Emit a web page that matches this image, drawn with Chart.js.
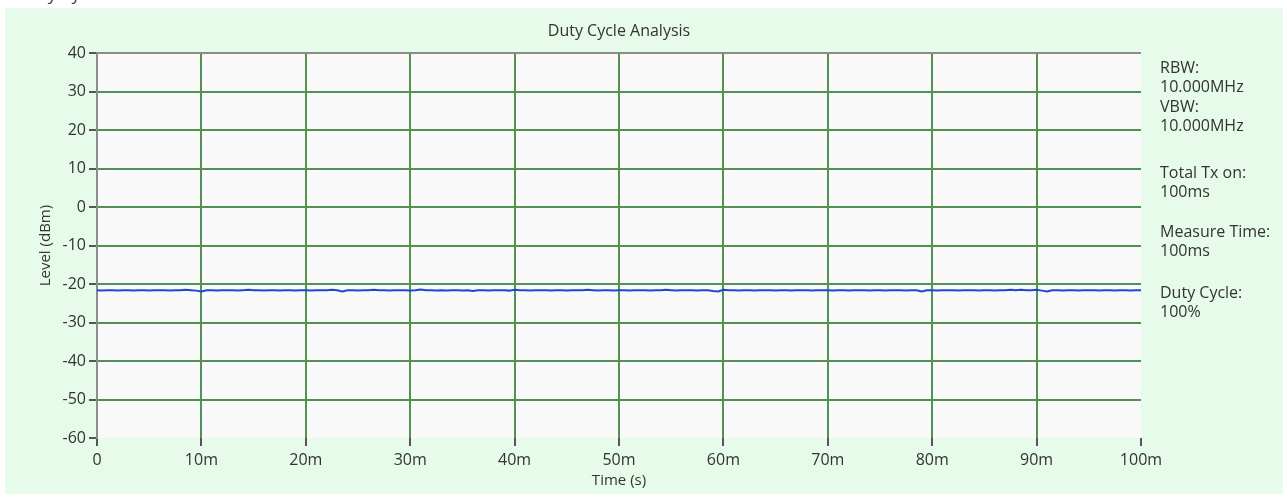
<!DOCTYPE html>
<html>
<head>
<meta charset="utf-8">
<title>Duty Cycle Analysis</title>
<script src="https://cdn.jsdelivr.net/npm/chart.js@4/dist/chart.umd.min.js"></script>
<style>
  html, body { margin: 0; padding: 0; background: #fff; }
  body { width: 1288px; height: 496px; position: relative; overflow: hidden; font-family: "Open Sans", sans-serif; }
  #panel { position: absolute; left: 5px; top: 8px; width: 1278px; height: 486px; background: #e6fbe9; }
  #cut { position: absolute; left: 19px; top: -18px; font-size: 17px; color: #333; }
  #wrap { position: absolute; left: 0; top: 0; width: 1288px; height: 496px; }
</style>
</head>
<body>
<div id="panel"></div>
<div id="cut">Duty Cycle</div>
<div id="wrap"><canvas id="chart" width="1288" height="496"></canvas></div>
<script>
  // sweep points, every 0.5 ms; level in dBm
  const timeMs = [
    0, 0.5, 1, 1.5, 2, 2.5, 3, 3.5, 4, 4.5, 5, 5.5, 6, 6.5, 7, 7.5, 8, 8.5, 9, 9.5,
    10, 10.5, 11, 11.5, 12, 12.5, 13, 13.5, 14, 14.5, 15, 15.5, 16, 16.5, 17, 17.5, 18, 18.5, 19, 19.5,
    20, 20.5, 21, 21.5, 22, 22.5, 23, 23.5, 24, 24.5, 25, 25.5, 26, 26.5, 27, 27.5, 28, 28.5, 29, 29.5,
    30, 30.5, 31, 31.5, 32, 32.5, 33, 33.5, 34, 34.5, 35, 35.5, 36, 36.5, 37, 37.5, 38, 38.5, 39, 39.5,
    40, 40.5, 41, 41.5, 42, 42.5, 43, 43.5, 44, 44.5, 45, 45.5, 46, 46.5, 47, 47.5, 48, 48.5, 49, 49.5,
    50, 50.5, 51, 51.5, 52, 52.5, 53, 53.5, 54, 54.5, 55, 55.5, 56, 56.5, 57, 57.5, 58, 58.5, 59, 59.5,
    60, 60.5, 61, 61.5, 62, 62.5, 63, 63.5, 64, 64.5, 65, 65.5, 66, 66.5, 67, 67.5, 68, 68.5, 69, 69.5,
    70, 70.5, 71, 71.5, 72, 72.5, 73, 73.5, 74, 74.5, 75, 75.5, 76, 76.5, 77, 77.5, 78, 78.5, 79, 79.5,
    80, 80.5, 81, 81.5, 82, 82.5, 83, 83.5, 84, 84.5, 85, 85.5, 86, 86.5, 87, 87.5, 88, 88.5, 89, 89.5,
    90, 90.5, 91, 91.5, 92, 92.5, 93, 93.5, 94, 94.5, 95, 95.5, 96, 96.5, 97, 97.5, 98, 98.5, 99, 99.5,
    100
  ];
  const levelDbm = [
    -21.6, -21.7, -21.6, -21.6, -21.7, -21.6, -21.6, -21.7, -21.6, -21.6, -21.7, -21.6, -21.6, -21.6, -21.7, -21.6, -21.6, -21.5, -21.6, -21.7,
    -21.9, -21.6, -21.6, -21.7, -21.6, -21.6, -21.6, -21.7, -21.6, -21.5, -21.6, -21.6, -21.7, -21.6, -21.6, -21.7, -21.6, -21.6, -21.7, -21.6,
    -21.6, -21.7, -21.6, -21.6, -21.6, -21.5, -21.6, -21.9, -21.6, -21.6, -21.7, -21.6, -21.6, -21.5, -21.6, -21.6, -21.7, -21.6, -21.6, -21.6,
    -21.7, -21.6, -21.4, -21.6, -21.6, -21.7, -21.6, -21.7, -21.6, -21.6, -21.7, -21.6, -21.8, -21.6, -21.6, -21.7, -21.6, -21.6, -21.6, -21.7,
    -21.5, -21.6, -21.6, -21.7, -21.6, -21.6, -21.6, -21.7, -21.6, -21.6, -21.7, -21.6, -21.6, -21.6, -21.5, -21.6, -21.7, -21.6, -21.6, -21.7,
    -21.6, -21.6, -21.7, -21.6, -21.6, -21.6, -21.7, -21.6, -21.6, -21.5, -21.6, -21.7, -21.6, -21.6, -21.6, -21.7, -21.6, -21.6, -21.8, -21.9,
    -21.5, -21.6, -21.6, -21.7, -21.6, -21.6, -21.7, -21.6, -21.6, -21.6, -21.7, -21.6, -21.6, -21.7, -21.6, -21.6, -21.6, -21.7, -21.6, -21.6,
    -21.6, -21.7, -21.6, -21.6, -21.7, -21.6, -21.6, -21.6, -21.7, -21.6, -21.6, -21.7, -21.6, -21.6, -21.6, -21.7, -21.6, -21.6, -21.9, -21.6,
    -21.6, -21.7, -21.6, -21.6, -21.6, -21.7, -21.6, -21.6, -21.6, -21.7, -21.6, -21.6, -21.7, -21.6, -21.6, -21.5, -21.6, -21.5, -21.6, -21.6,
    -21.5, -21.7, -21.9, -21.6, -21.6, -21.7, -21.6, -21.6, -21.7, -21.6, -21.6, -21.6, -21.7, -21.6, -21.6, -21.7, -21.6, -21.6, -21.7, -21.6,
    -21.6
  ];
  const xTicks = [0, 10, 20, 30, 40, 50, 60, 70, 80, 90, 100];
  const yTicks = [40, 30, 20, 10, 0, -10, -20, -30, -40, -50, -60];
  const infoBlocks = [
    ["RBW:", "10.000MHz", "VBW:", "10.000MHz"],
    ["Total Tx on:", "100ms"],
    ["Measure Time:", "100ms"],
    ["Duty Cycle:", "100%"]
  ];
  const infoTops = [68, 173, 232, 293];

  const gridGreen = "#519251";
  const axisGray = "#8c8c8c";
  const textColor = "#333333";
  const fontFamily = "'Open Sans', sans-serif";

  const plotBackground = {
    id: "plotBackground",
    beforeDraw(chart) {
      const { ctx, chartArea: a } = chart;
      ctx.save();
      ctx.fillStyle = "#f9f9f9";
      ctx.fillRect(a.left, a.top, a.right - a.left, a.bottom - a.top);
      ctx.restore();
    },
  };

  const infoText = {
    id: "infoText",
    afterDraw(chart) {
      const { ctx, chartArea: a } = chart;
      ctx.save();
      ctx.fillStyle = textColor;
      ctx.font = "16px " + fontFamily;
      ctx.textBaseline = "middle";
      infoBlocks.forEach((lines, i) => {
        lines.forEach((line, j) => {
          ctx.fillText(line, a.right + 19, infoTops[i] + j * 19.6);
        });
      });
      ctx.restore();
    },
  };

  new Chart(document.getElementById("chart"), {
    type: "line",
    data: {
      datasets: [
        {
          data: timeMs.map((t, i) => ({ x: t, y: levelDbm[i] })),
          borderColor: "#1f45d6",
          borderWidth: 2,
          pointRadius: 0,
          tension: 0,
        },
      ],
    },
    options: {
      responsive: false,
      animation: false,
      devicePixelRatio: 1,
      layout: { padding: { left: 0, right: 147, top: 0, bottom: 0 } },
      plugins: {
        legend: { display: false },
        tooltip: { enabled: false },
        title: {
          display: true,
          text: "Duty Cycle Analysis",
          fullSize: false,
          color: textColor,
          font: { family: fontFamily, size: 16, weight: "normal" },
          padding: { top: 22, bottom: 12 },
        },
      },
      scales: {
        x: {
          type: "linear",
          min: 0,
          max: 100,
          afterFit: (s) => { s.height = 58; },
          afterBuildTicks: (s) => { s.ticks = xTicks.map((v) => ({ value: v })); },
          border: { display: false },
          grid: {
            color: (c) => (c.tick && (c.tick.value === 0 || c.tick.value === 100) ? "transparent" : gridGreen),
            lineWidth: 2,
            tickColor: "#555",
            tickWidth: 2,
            tickLength: 8,
          },
          ticks: {
            color: textColor,
            font: { family: fontFamily, size: 16 },
            padding: 5,
            maxRotation: 0,
            callback: (v) => (v === 0 ? "0" : v + "m"),
          },
          title: {
            display: true,
            text: "Time (s)",
            color: textColor,
            font: { family: fontFamily, size: 15 },
            padding: { top: 0, bottom: 6 },
          },
        },
        y: {
          min: -60,
          max: 40,
          afterFit: (s) => { s.width = 97; },
          afterBuildTicks: (s) => { s.ticks = yTicks.map((v) => ({ value: v })); },
          border: { color: axisGray, width: 2 },
          grid: {
            color: (c) => {
              if (!c.tick) return gridGreen;
              if (c.tick.value === 40) return axisGray;
              if (c.tick.value === -60) return "transparent";
              return gridGreen;
            },
            lineWidth: 2,
            tickColor: "#555",
            tickWidth: 2,
            tickLength: 8,
          },
          ticks: {
            color: textColor,
            font: { family: fontFamily, size: 16 },
            padding: 3,
          },
          title: {
            display: true,
            text: "Level (dBm)",
            color: textColor,
            font: { family: fontFamily, size: 15 },
            padding: { top: 37, bottom: 0 },
          },
        },
      },
    },
    plugins: [plotBackground, infoText],
  });
</script>
</body>
</html>
